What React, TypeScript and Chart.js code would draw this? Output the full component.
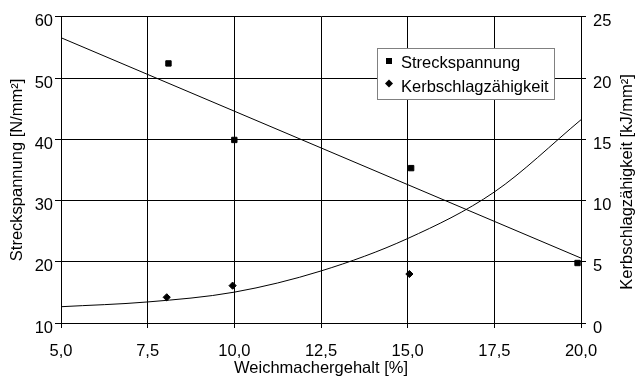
import React, { useEffect, useRef } from "react";
import { Chart, registerables } from "chart.js";

Chart.register(...registerables);

// ---- data ----
const streckX = [8.1, 10.0, 15.1, 19.9];
const streckY = [52.4, 39.9, 35.3, 19.8];
const kerbX = [8.05, 9.95, 15.05];
const kerbY = [2.1, 3.05, 4.0];
// linear trend line of Streckspannung (end points)
const streckTrendX = [5, 20];
const streckTrendY = [56.6, 20.6];
// trend curve of Kerbschlagzähigkeit (read at grid positions)
const kerbTrendX = [5, 7.5, 10, 12.5, 15, 17.5, 20];
const kerbTrendY = [1.33, 1.72, 2.52, 4.25, 6.9, 10.7, 16.6];

const labelStreck = "Streckspannung";
const labelKerb = "Kerbschlagzähigkeit";
const xTitle = "Weichmachergehalt [%]";
const yTitle = "Streckspannung [N/mm²]";
const y2Title = "Kerbschlagzähigkeit [kJ/mm²]";

const FONT = "'Liberation Sans', Arial, sans-serif";
const FS = 16.5;

const zip = (xs: number[], ys: number[]) => xs.map((x, i) => ({ x, y: ys[i] }));

export default function App() {
  const ref = useRef<HTMLCanvasElement | null>(null);

  useEffect(() => {
    document.body.style.margin = "0";
    const canvas = ref.current!;
    const overlay = {
      id: "overlay",
      afterDraw(chart: any) {
        const ctx = chart.ctx as CanvasRenderingContext2D;
        const ca = chart.chartArea;
        // right axis title, reading bottom to top
        ctx.save();
        ctx.font = `${FS}px ${FONT}`;
        ctx.fillStyle = "#000";
        ctx.textAlign = "center";
        ctx.textBaseline = "middle";
        ctx.translate(627, (ca.top + ca.bottom) / 2 + 12);
        ctx.rotate(-Math.PI / 2);
        ctx.fillText(y2Title, 0, 0);
        ctx.restore();

        // legend box
        ctx.save();
        const bx = 377, by = 48, bw = 177, bh = 51;
        ctx.fillStyle = "#fff";
        ctx.fillRect(bx, by, bw, bh);
        ctx.strokeStyle = "#808080";
        ctx.lineWidth = 1;
        ctx.strokeRect(bx + 0.5, by + 0.5, bw, bh);
        ctx.fillStyle = "#000";
        // square
        ctx.fillRect(386, 58, 6, 6);
        // diamond
        ctx.beginPath();
        ctx.moveTo(389, 79.5);
        ctx.lineTo(393, 83.5);
        ctx.lineTo(389, 87.5);
        ctx.lineTo(385, 83.5);
        ctx.closePath();
        ctx.fill();
        ctx.font = `${FS}px ${FONT}`;
        ctx.textAlign = "left";
        ctx.textBaseline = "middle";
        ctx.fillText(chart.data.datasets[2].label, 401, 63.5);
        ctx.fillText(chart.data.datasets[3].label, 401, 87);
        ctx.restore();
      },
    };

    const chart = new Chart(canvas, {
      type: "scatter",
      data: {
        datasets: [
          {
            type: "line",
            label: "trend1",
            data: zip(streckTrendX, streckTrendY),
            yAxisID: "y",
            borderColor: "#000",
            borderWidth: 1,
            pointRadius: 0,
            fill: false,
            order: 3,
          },
          {
            type: "line",
            label: "trend2",
            data: zip(kerbTrendX, kerbTrendY),
            yAxisID: "y2",
            borderColor: "#000",
            borderWidth: 1,
            pointRadius: 0,
            fill: false,
            cubicInterpolationMode: "monotone",
            order: 3,
          },
          {
            label: labelStreck,
            data: zip(streckX, streckY),
            yAxisID: "y",
            pointStyle: "rect",
            pointRadius: 3.8,
            backgroundColor: "#000",
            borderColor: "#000",
            borderWidth: 1,
            order: 1,
          },
          {
            label: labelKerb,
            data: zip(kerbX, kerbY),
            yAxisID: "y2",
            pointStyle: "rectRot",
            pointRadius: 3.6,
            backgroundColor: "#000",
            borderColor: "#000",
            borderWidth: 1,
            order: 1,
          },
        ],
      },
      options: {
        responsive: false,
        animation: false,
        layout: { padding: { top: 13, left: 0, right: 0, bottom: 0 } },
        plugins: {
          legend: { display: false },
          tooltip: { enabled: false },
        },
        scales: {
          x: {
            type: "linear",
            min: 5,
            max: 20,
            afterFit: (s: any) => {
              s.height = 55;
            },
            ticks: {
              stepSize: 2.5,
              color: "#000",
              font: { family: FONT, size: FS },
              padding: 14,
              callback: (v: any) => Number(v).toFixed(1).replace(".", ","),
            },
            grid: { color: "#000", lineWidth: 1, tickLength: 5 },
            border: { color: "#000", width: 1 },
            title: {
              display: true,
              text: xTitle,
              color: "#000",
              font: { family: FONT, size: FS },
              padding: { top: 0, bottom: 0 },
            },
          },
          y: {
            type: "linear",
            position: "left",
            min: 10,
            max: 60,
            afterFit: (s: any) => {
              s.width = 61;
            },
            ticks: {
              stepSize: 10,
              color: "#000",
              font: { family: FONT, size: FS },
              padding: 2,
              labelOffset: 5,
            },
            grid: { color: "#000", lineWidth: 1, tickLength: 6 },
            border: { color: "#000", width: 1 },
            title: {
              display: true,
              text: yTitle,
              color: "#000",
              font: { family: FONT, size: FS },
              padding: { top: 8, bottom: 0 },
            },
          },
          y2: {
            type: "linear",
            position: "right",
            min: 0,
            max: 25,
            afterFit: (s: any) => {
              s.width = 55;
            },
            ticks: {
              stepSize: 5,
              color: "#000",
              font: { family: FONT, size: FS },
              padding: 7,
              labelOffset: 5,
            },
            grid: { color: "#000", lineWidth: 1, tickLength: 5, drawOnChartArea: false },
            border: { color: "#000", width: 1 },
          },
        },
      },
      plugins: [overlay],
    } as any);

    return () => chart.destroy();
  }, []);

  return (
    <div style={{ width: 636, height: 378, background: "#fff" }}>
      <canvas ref={ref} width={636} height={378} style={{ display: "block" }} />
    </div>
  );
}
